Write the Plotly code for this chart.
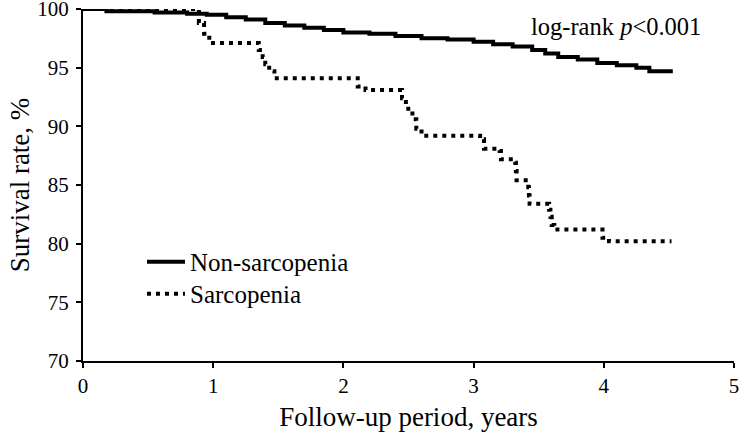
import plotly.graph_objects as go

# Non-sarcopenia Kaplan-Meier curve (years, survival %)
non_t = [0, 0.18, 0.55, 0.8, 0.95, 1.1, 1.25, 1.4, 1.55, 1.7, 1.85, 2.0, 2.2, 2.4, 2.6,
         2.8, 3.0, 3.15, 3.3, 3.45, 3.55, 3.65, 3.8, 3.95, 4.1, 4.25, 4.35, 4.53]
non_s = [100, 99.8, 99.7, 99.6, 99.5, 99.3, 99.1, 98.8, 98.6, 98.4, 98.2, 98.0, 97.9, 97.7, 97.5,
         97.4, 97.2, 97.0, 96.8, 96.5, 96.2, 95.9, 95.7, 95.4, 95.2, 95.0, 94.7, 94.7]

# Sarcopenia Kaplan-Meier curve (years, survival %)
sar_t = [0, 0.89, 0.93, 0.97, 1.35, 1.38, 1.40, 1.43, 1.47, 2.11, 2.17, 2.45, 2.48, 2.53, 2.56,
         2.60, 3.05, 3.08, 3.20, 3.21, 3.32, 3.325, 3.33, 3.42, 3.425, 3.43, 3.58, 3.59, 3.60,
         3.62, 3.99, 4.04, 4.52]
sar_s = [100, 98.8, 97.9, 97.1, 96.5, 95.9, 95.3, 94.7, 94.1, 93.4, 93.1, 92.4, 91.5, 90.6, 89.8,
         89.2, 88.9, 88.1, 87.9, 87.2, 86.9, 86.2, 85.4, 84.8, 84.1, 83.4, 82.9, 82.3, 81.6,
         81.2, 80.5, 80.2, 80.2]

x_ticks = [0, 1, 2, 3, 4, 5]
y_ticks = [70, 75, 80, 85, 90, 95, 100]

FONT = "Liberation Serif, Times New Roman, serif"

fig = go.Figure()
fig.add_trace(go.Scatter(x=non_t, y=non_s, mode="lines", name="Non-sarcopenia", legend="legend",
                         line=dict(color="black", width=4, shape="hv")))
fig.add_trace(go.Scatter(x=sar_t, y=sar_s, mode="lines", name="Sarcopenia", legend="legend2",
                         line=dict(color="black", width=4, shape="hv", dash="4px,5px")))

fig.add_annotation(x=0.952, y=1.0, xref="paper", yref="paper", xanchor="right", yanchor="top",
                   text="log-rank <i>p</i><0.001", showarrow=False,
                   font=dict(family=FONT, size=24.5, color="black"), yshift=-2)

legend_common = dict(xanchor="left", yanchor="top",
                     font=dict(family=FONT, size=25, color="black"),
                     bgcolor="rgba(0,0,0,0)", itemwidth=38)

fig.update_layout(
    width=740, height=435,
    margin=dict(l=83, r=6, t=9, b=74),
    paper_bgcolor="white", plot_bgcolor="white",
    font=dict(family=FONT, color="black"),
    showlegend=True,
    legend=dict(x=0.0906, y=0.3466, **legend_common),
    legend2=dict(x=0.0906, y=0.2557, **legend_common),
    xaxis=dict(range=[0, 5], tickvals=x_ticks, ticktext=[str(v) for v in x_ticks],
               showgrid=False, zeroline=False, showline=True, linecolor="black", linewidth=2,
               ticks="outside", ticklen=5, tickwidth=2, tickcolor="black",
               tickfont=dict(family=FONT, size=21, color="black"),
               ticklabeloverflow="allow", automargin=False,
               title=dict(text="Follow-up period, years", font=dict(family=FONT, size=27, color="black"),
                          standoff=10)),
    yaxis=dict(range=[70, 100], tickvals=y_ticks, ticktext=[str(v) for v in y_ticks],
               showgrid=False, zeroline=False, showline=True, linecolor="black", linewidth=2,
               ticks="outside", ticklen=5, tickwidth=2, tickcolor="black",
               tickfont=dict(family=FONT, size=21, color="black"), ticklabelstandoff=3,
               ticklabeloverflow="allow", automargin=False,
               title=dict(text="Survival rate, %", font=dict(family=FONT, size=27, color="black"),
                          standoff=0)),
)

fig.write_html("out.html", config={"displayModeBar": False},
               post_script="document.body.style.margin='0';")
